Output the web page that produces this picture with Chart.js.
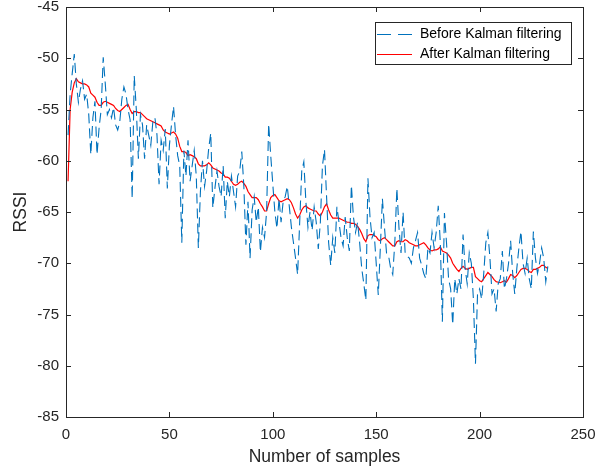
<!DOCTYPE html>
<html>
<head>
<meta charset="utf-8">
<script src="https://cdn.jsdelivr.net/npm/chart.js@4.4.1/dist/chart.umd.min.js"></script>
<style>
  html, body { margin: 0; padding: 0; background: #fff; }
</style>
</head>
<body>
<canvas id="rssi" width="598" height="473"></canvas>
<script>
// RSSI per sample, raw readings
const beforeKalman = [
  -57.5, -53.5, -51.5, -49.6, -52.5, -54.3, -53.0, -52.2, -54.0, -53.5,
  -55.5, -59.4, -55.8, -54.2, -59.4, -56.8, -55.0, -49.9, -52.5, -55.5,
  -55.0, -55.8, -54.8, -56.5, -57.0, -56.2, -54.0, -52.8, -53.5, -55.0,
  -56.0, -63.7, -51.7, -55.0, -59.8, -55.5, -56.5, -59.8, -56.5, -57.5,
  -58.5, -56.2, -55.8, -57.5, -62.3, -58.0, -59.0, -56.9, -62.7, -58.5,
  -56.5, -54.7, -57.5, -59.5, -60.5, -68.0, -59.0, -61.5, -58.0, -62.0,
  -60.5, -59.0, -61.5, -68.5, -63.0, -60.0, -62.5, -61.0, -58.8, -57.3,
  -64.6, -62.7, -61.0, -62.5, -63.5, -60.5, -65.6, -62.0, -63.5, -61.5,
  -63.0, -64.5, -61.5, -61.0, -59.1, -62.5, -68.2, -64.0, -69.5, -64.8,
  -63.5, -66.0, -64.5, -68.9, -66.5, -67.5, -65.0, -56.4, -59.5, -62.3,
  -65.0, -66.6, -63.7, -66.0, -64.0, -63.5, -62.5, -64.5, -66.5, -68.0,
  -69.5, -71.1, -66.0, -61.0, -60.1, -64.0, -66.5, -65.0, -66.8, -64.5,
  -66.0, -68.6, -66.0, -60.5, -58.9, -63.5, -68.0, -70.2, -67.5, -69.0,
  -64.5, -66.0, -67.5, -68.3, -65.5, -67.5, -68.8, -62.4, -65.5, -67.0,
  -66.0, -68.0, -70.5, -72.0, -73.6, -61.7, -65.5, -67.5, -67.0, -70.0,
  -73.1, -68.5, -63.7, -66.5, -69.0, -69.3, -70.5, -71.1, -68.0, -62.7,
  -66.5, -69.0, -65.0, -69.0, -69.3, -69.5, -70.0, -68.5, -67.8, -67.0,
  -69.5, -70.2, -71.0, -71.5, -68.5, -69.0, -67.0, -68.5, -67.0, -64.4,
  -68.0, -75.7, -65.1, -68.0, -71.5, -72.5, -76.0, -71.5, -73.0, -71.5,
  -72.5, -67.2, -70.5, -72.0, -69.0, -70.0, -73.5, -79.8, -73.0, -72.5,
  -73.5, -71.0, -68.0, -67.0, -69.5, -73.0, -72.5, -74.7, -72.0, -71.5,
  -68.8, -72.5, -71.5, -70.0, -67.8, -71.0, -73.0, -70.5, -68.5, -66.9,
  -70.0, -71.0, -69.5, -71.5, -72.5, -66.9, -69.5, -71.0, -70.0, -68.5,
  -69.5, -71.8, -70.3
];

// filtered output
const afterKalman = [
  -62.0, -55.0, -53.3, -52.4, -52.0, -52.3, -52.4, -52.5, -52.5, -52.6,
  -52.8, -53.4, -53.6, -53.8, -54.3, -54.6, -54.6, -54.3, -54.2, -54.3,
  -54.4, -54.5, -54.6, -54.9, -55.1, -55.2, -55.0, -54.8, -54.6, -54.5,
  -55.0, -55.4, -55.2, -55.2, -55.3, -55.3, -55.5, -55.7, -55.9, -56.0,
  -56.1, -56.2, -56.3, -56.4, -56.5, -56.6, -57.0, -57.2, -57.3, -57.4,
  -57.3, -57.2, -57.4, -57.8, -58.6, -59.1, -59.1, -59.2, -59.5, -59.4,
  -59.5, -59.6, -59.8, -60.3, -60.5, -60.5, -60.5, -60.4, -60.2, -60.4,
  -60.7, -60.8, -60.9, -61.0, -61.2, -61.3, -61.6, -61.6, -61.7, -62.0,
  -62.3, -62.4, -62.3, -62.1, -62.0, -62.2, -62.5, -63.0, -63.3, -63.6,
  -63.6, -63.6, -63.8, -64.2, -64.5, -64.9, -64.9, -64.2, -63.6, -63.4,
  -63.3, -63.6, -63.9, -64.0, -63.9, -63.8, -63.7, -63.8, -64.1, -64.6,
  -65.2, -65.6, -65.3, -64.8, -64.5, -64.4, -64.6, -64.7, -64.8, -64.9,
  -64.9, -65.2, -65.4, -65.0, -64.5, -64.2, -64.8, -65.3, -65.6, -65.6,
  -65.6, -65.6, -65.7, -65.8, -65.9, -66.0, -66.0, -66.1, -66.1, -66.2,
  -66.4, -66.7, -67.1, -67.6, -67.9, -67.3, -67.2, -67.2, -67.3, -67.4,
  -67.7, -67.8, -67.6, -67.5, -67.7, -67.9, -68.1, -68.3, -68.3, -67.9,
  -67.8, -67.9, -67.9, -67.7, -67.8, -68.0, -68.1, -68.2, -68.3, -68.3,
  -68.2, -68.1, -68.0, -68.2, -68.5, -68.7, -68.8, -68.7, -68.7, -68.6,
  -68.4, -68.8, -68.9, -69.0, -69.2, -69.5, -70.0, -70.3, -70.6, -70.8,
  -70.5, -70.3, -70.5, -70.6, -70.5, -70.4, -70.4, -71.3, -71.5, -71.7,
  -71.8, -71.5, -71.2, -70.9, -71.1, -71.3, -71.6, -71.8, -71.85, -71.9,
  -71.8, -71.7, -71.85, -71.5, -71.1, -71.2, -71.4, -71.2, -70.9, -70.6,
  -70.5, -70.5, -70.6, -70.8, -70.9, -70.6, -70.6, -70.5, -70.4, -70.2,
  -70.2, -70.4, -70.5
];

const xTicks = [0, 50, 100, 150, 200, 250];
const yTicks = [-85, -80, -75, -70, -65, -60, -55, -50, -45];
const seriesNames = ["Before Kalman filtering", "After Kalman filtering"];

const FONT = '"Liberation Sans", Arial, Helvetica, sans-serif';
const AXIS = '#262626';

function toPoints(values) {
  // sample numbers start at 1
  return values.map((v, i) => ({x: i + 1, y: v}));
}

// box, inward ticks on all four sides and the boxed legend
const matlabAxes = {
  id: 'matlabAxes',
  afterDatasetsDraw(chart) {
    const {ctx, chartArea: a, scales: {x, y}} = chart;
    const tl = 5;
    ctx.save();
    ctx.strokeStyle = AXIS;
    ctx.lineWidth = 1;
    ctx.beginPath();
    xTicks.forEach(v => {
      const px = Math.round(x.getPixelForValue(v)) + 0.5;
      ctx.moveTo(px, a.bottom); ctx.lineTo(px, a.bottom - tl);
      ctx.moveTo(px, a.top); ctx.lineTo(px, a.top + tl);
    });
    yTicks.forEach(v => {
      const py = Math.round(y.getPixelForValue(v)) + 0.5;
      ctx.moveTo(a.left, py); ctx.lineTo(a.left + tl, py);
      ctx.moveTo(a.right, py); ctx.lineTo(a.right - tl, py);
    });
    ctx.stroke();
    ctx.strokeRect(Math.round(a.left) + 0.5, Math.round(a.top) + 0.5,
      Math.round(a.right - a.left), Math.round(a.bottom - a.top));

    // legend
    const lx = 375, ly = 22, lw = 196, lh = 42;
    ctx.fillStyle = '#fff';
    ctx.fillRect(lx, ly, lw, lh);
    ctx.strokeRect(lx + 0.5, ly + 0.5, lw, lh);
    ctx.font = '14px ' + FONT;
    ctx.textBaseline = 'middle';
    ctx.textAlign = 'left';
    chart.data.datasets.forEach((ds, i) => {
      const ry = ly + 12 + i * 20;
      ctx.strokeStyle = ds.borderColor;
      ctx.lineWidth = ds.borderWidth;
      ctx.setLineDash(ds.borderDash ? [14, 7] : []);
      ctx.beginPath();
      ctx.moveTo(377, ry + 0.5); ctx.lineTo(412, ry + 0.5);
      ctx.stroke();
      ctx.setLineDash([]);
      ctx.fillStyle = '#000';
      ctx.fillText(ds.label, 420, ry);
    });
    ctx.restore();
  }
};

new Chart(document.getElementById('rssi'), {
  type: 'line',
  data: {
    datasets: [
      {
        label: seriesNames[0],
        data: toPoints(beforeKalman),
        borderColor: '#0072BD',
        borderWidth: 1.1,
        borderDash: [10, 5],
        pointRadius: 0,
        tension: 0
      }, {
        label: seriesNames[1],
        data: toPoints(afterKalman),
        borderColor: '#FF0000',
        borderWidth: 1.2,
        pointRadius: 0,
        tension: 0
      }
    ]
  },
  options: {
    responsive: false,
    animation: false,
    layout: { padding: { top: 7, right: 15, left: 0, bottom: 0 } },
    plugins: {
      legend: { display: false },
      tooltip: { enabled: false }
    },
    scales: {
      x: {
        type: 'linear',
        min: 0,
        max: 250,
        afterFit(s) { s.height = 56; s.paddingLeft = 0; s.paddingRight = 0; },
        afterBuildTicks(s) { s.ticks = xTicks.map(v => ({value: v})); },
        grid: { display: false, drawTicks: false },
        border: { display: false },
        ticks: { padding: 9, color: AXIS, font: { family: FONT, size: 15 }, maxRotation: 0 },
        title: {
          display: true,
          text: 'Number of samples',
          color: AXIS,
          font: { family: FONT, size: 17.5 },
          padding: { top: 0, bottom: 5 }
        }
      },
      y: {
        min: -85,
        max: -45,
        afterFit(s) { s.width = 66; s.paddingTop = 0; s.paddingBottom = 0; },
        afterBuildTicks(s) { s.ticks = yTicks.map(v => ({value: v})); },
        grid: { display: false, drawTicks: false },
        border: { display: false },
        ticks: { padding: 7, color: AXIS, font: { family: FONT, size: 15 } },
        title: {
          display: true,
          text: 'RSSI',
          color: AXIS,
          font: { family: FONT, size: 17.5 },
          padding: { top: 11, bottom: 0 }
        }
      }
    }
  },
  plugins: [matlabAxes]
});
</script>
</body>
</html>
